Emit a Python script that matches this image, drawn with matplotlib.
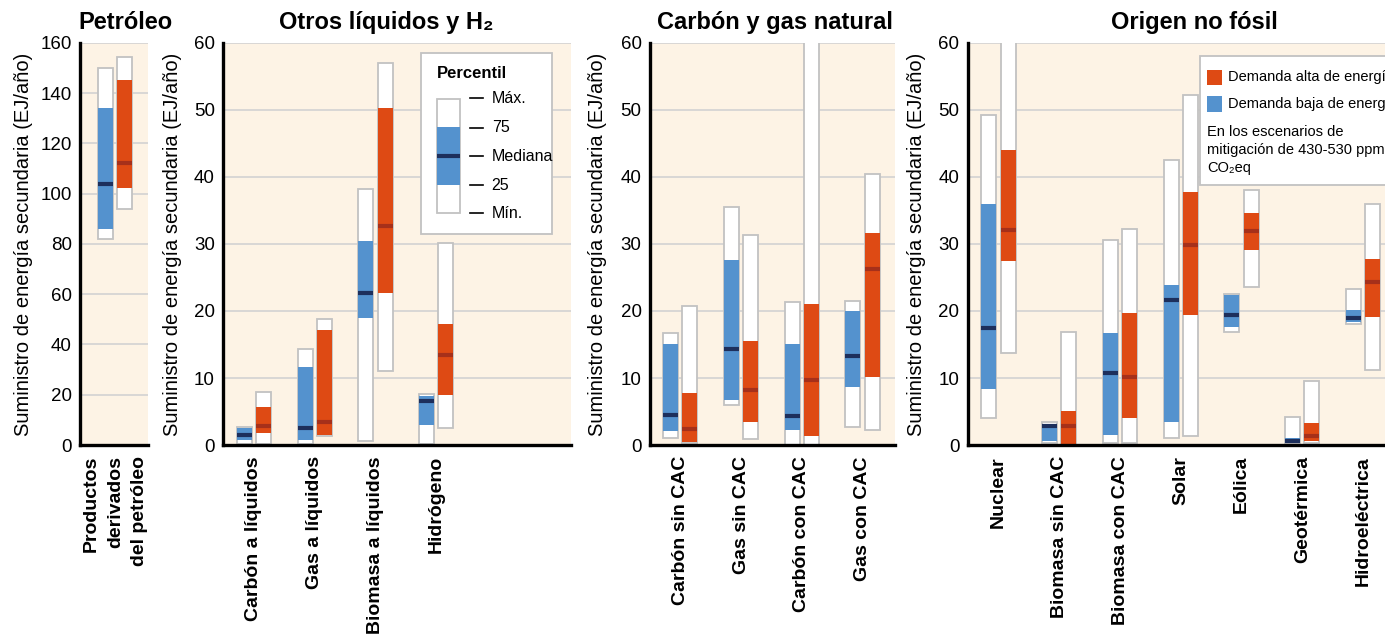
import numpy as np
import matplotlib.pyplot as plt
from matplotlib.patches import Rectangle

plt.rcParams['font.family'] = ['Liberation Sans', 'DejaVu Sans']

# percentiles per technology: min, 25, median, 75, max  (EJ/yr)
pet_cats = ['Productos\nderivados\ndel petróleo']
pet_low = [[82, 86, 103.7, 134.3, 150.1]]
pet_high = [[93.9, 102.1, 112.4, 145.4, 154.6]]

liq_cats = ['Carbón a líquidos', 'Gas a líquidos', 'Biomasa a líquidos', 'Hidrógeno']
liq_low = [[0.1, 0.75, 1.5, 2.5, 2.7],
           [0.1, 0.75, 2.5, 11.7, 14.4],
           [0.6, 18.9, 22.7, 30.4, 38.2],
           [0.1, 3.0, 6.6, 7.3, 7.55]]
liq_high = [[0.1, 1.75, 2.8, 5.6, 7.85],
            [1.4, 1.5, 3.4, 17.1, 18.8],
            [11.0, 22.7, 32.7, 50.3, 57.0],
            [2.6, 7.45, 13.4, 18.1, 30.1]]

fos_cats = ['Carbón sin CAC', 'Gas sin CAC', 'Carbón con CAC', 'Gas con CAC']
fos_low = [[1.0, 2.1, 4.5, 15.1, 16.7],
           [6.0, 6.7, 14.3, 27.6, 35.5],
           [0.0, 2.2, 4.4, 15.1, 21.3],
           [2.7, 8.7, 13.3, 20.0, 21.5]]
fos_high = [[0.3, 0.5, 2.4, 7.7, 20.7],
            [0.9, 3.5, 8.2, 15.5, 31.4],
            [0.0, 1.4, 9.7, 21.1, 66.0],
            [2.2, 10.2, 26.3, 31.7, 40.5]]

nf_cats = ['Nuclear', 'Biomasa sin CAC', 'Biomasa con CAC', 'Solar', 'Eólica',
           'Geotérmica', 'Hidroeléctrica']
nf_low = [[4.1, 8.4, 17.5, 35.9, 49.2],
          [0.25, 0.6, 2.9, 3.2, 3.4],
          [0.35, 1.5, 10.8, 16.7, 30.6],
          [1.0, 3.5, 21.7, 23.9, 42.5],
          [16.9, 17.6, 19.4, 22.4, 22.6],
          [0.25, 0.35, 0.65, 1.0, 4.2],
          [18.1, 18.4, 19.0, 20.2, 23.3]]
nf_high = [[13.7, 27.4, 32.1, 44.0, 66.0],
           [0.0, 0.0, 2.8, 5.1, 16.9],
           [0.35, 4.1, 10.1, 19.7, 32.2],
           [1.4, 19.4, 29.9, 37.7, 52.2],
           [23.6, 29.1, 31.9, 34.7, 38.0],
           [0.35, 0.65, 1.35, 3.3, 9.6],
           [11.2, 19.1, 24.3, 27.7, 36.0]]

BG = '#fdf3e5'
BLUE = '#5492ce'
BLUE_MED = '#1d2f5c'
RED = '#de4a14'
RED_MED = '#a6301a'
EDGE = '#c2c2c2'
GRID = '#d2d2d2'

W = 0.247
OFF = 0.158
YLAB = 'Suministro de energía secundaria (EJ/año)'

fig = plt.figure(figsize=(13.85, 6.34), dpi=100)


def boxes(ax, x, stats, face, med):
    lo, p25, m, p75, hi = stats
    ax.bar(x, hi - lo, bottom=lo, width=W, color='white', edgecolor=EDGE,
           linewidth=1.3, zorder=3)
    ax.bar(x, p75 - p25, bottom=p25, width=W, color=face, linewidth=0, zorder=4)
    ax.plot([x - W / 2, x + W / 2], [m, m], color=med, lw=3,
            solid_capstyle='butt', zorder=5)


def panel(rect, xlim, ymax, step, cats, low, high, labx):
    ax = fig.add_axes(rect)
    ax.set_facecolor(BG)
    ax.set_xlim(*xlim)
    ax.set_ylim(0, ymax)
    ax.set_yticks(np.arange(0, ymax + 1, step))
    ax.yaxis.grid(True, color=GRID, lw=1.2, zorder=0)
    ax.set_axisbelow(True)
    for s in ['top', 'right']:
        ax.spines[s].set_visible(False)
    for s in ['left', 'bottom']:
        ax.spines[s].set_linewidth(2.4)
        ax.spines[s].set_zorder(10)
    pos = np.arange(len(cats))
    for i in pos:
        boxes(ax, i - OFF, low[i], BLUE, BLUE_MED)
        boxes(ax, i + OFF, high[i], RED, RED_MED)
    ax.set_xticks(pos)
    ax.set_xticklabels(cats, rotation=90, fontsize=14, fontweight='bold',
                       va='top', ha='center', multialignment='right',
                       linespacing=1.55)
    ax.tick_params(axis='x', length=0, pad=8)
    ax.tick_params(axis='y', length=0, pad=6, labelsize=13.5)
    ax.set_ylabel(YLAB, fontsize=14.5, va='center')
    ax.yaxis.set_label_coords(labx, 0.5)
    return ax


ax1 = panel([0.0578, 0.2981, 0.0491, 0.6341], (-0.581, 0.538), 160, 20,
            pet_cats, pet_low, pet_high, -0.838)
ax2 = panel([0.1612, 0.2981, 0.2511, 0.6341], (-0.505, 5.218), 60, 10,
            liq_cats, liq_low, liq_high, -0.1447)
ax3 = panel([0.4693, 0.2981, 0.1771, 0.6341], (-0.499, 3.539), 60, 10,
            fos_cats, fos_low, fos_high, -0.212)
ax4 = panel([0.6987, 0.2981, 0.3164, 0.6341], (-0.507, 6.706), 60, 10,
            nf_cats, nf_low, nf_high, -0.1157)

# panel titles
for x, t in [(0.0903, 'Petróleo'), (0.2787, 'Otros líquidos y H₂'),
             (0.5592, 'Carbón y gas natural'), (0.8621, 'Origen no fósil')]:
    fig.text(x, 0.965, t, ha='center', va='center', fontsize=17,
             fontweight='bold')

# percentile key inside the second panel
T = ax2.transAxes
ax2.add_patch(Rectangle((0.569, 0.525), 0.376, 0.45, transform=T,
                        facecolor='white', edgecolor=EDGE, lw=1.3, zorder=6))
ax2.text(0.615, 0.925, 'Percentil', transform=T, fontsize=12,
         fontweight='bold', va='center', ha='left', zorder=7)
ax2.add_patch(Rectangle((0.615, 0.578), 0.065, 0.283, transform=T,
                        facecolor='white', edgecolor=EDGE, lw=1.3, zorder=7))
ax2.add_patch(Rectangle((0.615, 0.646), 0.065, 0.144, transform=T,
                        facecolor=BLUE, lw=0, zorder=8))
ax2.plot([0.615, 0.680], [0.718, 0.718], transform=T, color=BLUE_MED, lw=3,
         solid_capstyle='butt', zorder=9)
for yy, lab in zip([0.862, 0.789, 0.718, 0.646, 0.576],
                   ['Máx.', '75', 'Mediana', '25', 'Mín.']):
    ax2.plot([0.710, 0.746], [yy, yy], transform=T, color='black', lw=1.2,
             zorder=9)
    ax2.text(0.772, yy, lab, transform=T, fontsize=11.5, va='center',
             ha='left', zorder=9)

# demand legend inside the last panel
T = ax4.transAxes
ax4.add_patch(Rectangle((0.531, 0.646), 0.55, 0.321, transform=T,
                        facecolor='white', edgecolor=EDGE, lw=1.3, zorder=6))
for yy, col, lab in [(0.915, RED, 'Demanda alta de energía'),
                     (0.848, BLUE, 'Demanda baja de energía')]:
    ax4.add_patch(Rectangle((0.547, yy - 0.019), 0.034, 0.038, transform=T,
                            facecolor=col, lw=0, zorder=7))
    ax4.text(0.595, yy, lab, transform=T, fontsize=10.5, va='center',
             ha='left', zorder=7)
ax4.text(0.547, 0.672, 'En los escenarios de\nmitigación de 430-530 ppm\nCO₂eq',
         transform=T, fontsize=10.5, va='bottom', ha='left', linespacing=1.35,
         zorder=7)

fig.savefig('out.png', dpi=100, facecolor='white')
